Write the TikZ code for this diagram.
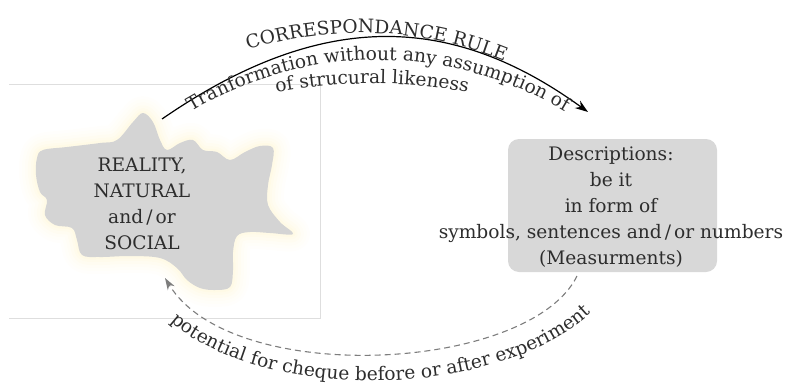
\documentclass[tikz,border=0pt]{standalone}
\usepackage{fontspec}
\usetikzlibrary{arrows.meta,decorations.text}
\newfontfamily\lblfont{DejaVu Serif}
\definecolor{blobgray}{RGB}{212,212,212}
\definecolor{boxgray}{RGB}{216,216,216}
\definecolor{txt}{RGB}{45,45,45}
\definecolor{glow}{RGB}{255,242,190}
\definecolor{framegray}{RGB}{222,222,222}
\definecolor{dashgray}{RGB}{125,125,125}
\newcommand{\lbl}{\lblfont\fontsize{18.6}{26}\selectfont}
\begin{document}
\begin{tikzpicture}[x=1pt,y=-1pt,
  lbltext/.style={font=\lbl, text=txt, align=center, inner sep=0pt},
  pathtext/.style={decorate, decoration={text along path, text align=center, text color=txt}},
  mainarrow/.style={line width=1.2pt, -{Stealth[length=13pt,width=9pt]}},
  checkarrow/.style={dashgray, line width=1.1pt, dash pattern=on 6pt off 4pt, -{Stealth[length=12pt,width=8pt]}}]
\useasboundingbox (0,0) rectangle (785,383);
% frame
\draw[framegray, line width=0.8pt] (9,84) -- (320,84) -- (320,318) -- (9,318);
% blob
\path[save path=\blobsave] plot[smooth cycle, tension=0.6] coordinates {
 (37,158) (43,150) (67,147) (100,143) (117,140) (133,122) (143,113) (153,122)
 (160,140) (167,150) (180,143) (193,140) (203,150) (217,152) (230,160) (245,152)
 (260,146) (273,148) (272,165) (268,185) (268,205) (280,222) (293,234) (270,233)
 (250,232) (237,236) (233,252) (233,270) (230,287) (215,290) (200,288) (187,280)
 (177,268) (160,258) (130,256) (100,257) (82,255) (77,240) (72,228) (55,225)
 (45,215) (47,200) (40,192) (36,175)};
\foreach \w/\o in {34/0.04, 28/0.05, 22/0.06, 16/0.08, 10/0.1, 5/0.14}{
  \draw[use path=\blobsave, glow, line width=\w pt, opacity=\o, line join=round];
}
\fill[use path=\blobsave, blobgray];
\node[lbltext] (reality) at (142,204) {REALITY,\\NATURAL\\and\,/\,or\\SOCIAL};
% description box
\node[fill=boxgray, rounded corners=11pt, minimum width=209pt, minimum height=133pt, inner sep=0pt] (descbox) at (612.5,205.5) {};
\node[lbltext] (desc) at (611,207) {Descriptions:\\be it\\in form of\\symbols, sentences and\,/\,or numbers\\(Measurments)};
% top arrow
\coordinate (a1) at (162,119);
\coordinate (a2) at (588,112);
\draw[mainarrow] (a1) .. controls (320,10) and (450,12) .. (a2);
\path[pathtext, decoration={text={|\lbl|CORRESPONDANCE RULE}}] (170,84) arc[start angle=-120, end angle=-55, radius=381];
\path[pathtext, decoration={text={|\lbl|Tranformation without any assumption of}}] (154.5,137) arc[start angle=-128, end angle=-52, radius=363];
\path[pathtext, decoration={text={|\lbl|of strucural likeness}}] (246.2,99) arc[start angle=-104, end angle=-76, radius=520];
% bottom arrow
\coordinate (b1) at (577,276);
\coordinate (b2) at (165,278);
\draw[checkarrow] (b1) .. controls (530,372) and (232,388) .. (b2);
\path[pathtext, decoration={text={|\lbl|potential for cheque before or after experiment}}] (150,297) .. controls (222,410) and (528,410) .. (612,289);
\end{tikzpicture}
\end{document}
